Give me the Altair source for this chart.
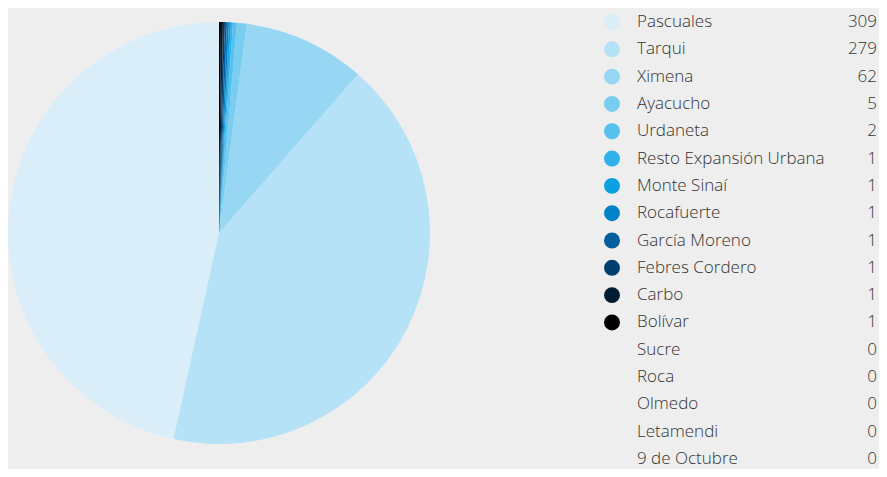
import altair as alt
import pandas as pd

names = ["Pascuales", "Tarqui", "Ximena", "Ayacucho", "Urdaneta",
         "Resto Expansión Urbana", "Monte Sinaí", "Rocafuerte", "García Moreno",
         "Febres Cordero", "Carbo", "Bolívar", "Sucre", "Roca", "Olmedo",
         "Letamendi", "9 de Octubre"]
values = [309, 279, 62, 5, 2, 1, 1, 1, 1, 1, 1, 1, 0, 0, 0, 0, 0]
colors = ["#daeef9", "#b5e2f6", "#97d7f4", "#79cdf0", "#56c1ee", "#2fb0e9",
          "#0aa0e2", "#0182c8", "#035ea0", "#023f6e", "#001c33", "#000000",
          "#eeeeee", "#eeeeee", "#eeeeee", "#eeeeee", "#eeeeee"]

df = pd.DataFrame({"name": names, "value": values, "row": list(range(len(names)))})

W, H = 871, 461
FONT = "Open Sans"
FS = 17
color_scale = alt.Scale(domain=names, range=colors)
yenc = alt.Y("row:Q", scale=alt.Scale(domain=[0, 16], range=[14, 451]), axis=None)

pie = alt.Chart(df).mark_arc(outerRadius=211).encode(
    theta=alt.Theta("value:Q", stack=True),
    color=alt.Color("name:N", scale=color_scale, legend=None),
    order=alt.Order("row:Q", sort="descending"),
    x=alt.value(211),
    y=alt.value(225),
)

dots = alt.Chart(df).transform_filter("datum.value > 0").mark_circle(size=254, opacity=1).encode(
    x=alt.value(604),
    y=yenc,
    color=alt.Color("name:N", scale=color_scale, legend=None),
)

labels = alt.Chart(df).mark_text(align="left", baseline="middle", fontSize=FS,
                                  font=FONT, fontWeight=300, color="#333333").encode(
    x=alt.value(629), y=yenc, text="name:N")

nums = alt.Chart(df).mark_text(align="right", baseline="middle", fontSize=FS,
                                font=FONT, fontWeight=300, color="#333333").encode(
    x=alt.value(869), y=yenc, text="value:Q")

chart = alt.layer(pie, dots, labels, nums).properties(
    width=W, height=H, padding=0,
    autosize=alt.AutoSizeParams(type="none"),
    background="#eeeeee",
).configure_view(stroke=None)

chart.save("out.html", embed_options={"renderer": "svg", "actions": False})
